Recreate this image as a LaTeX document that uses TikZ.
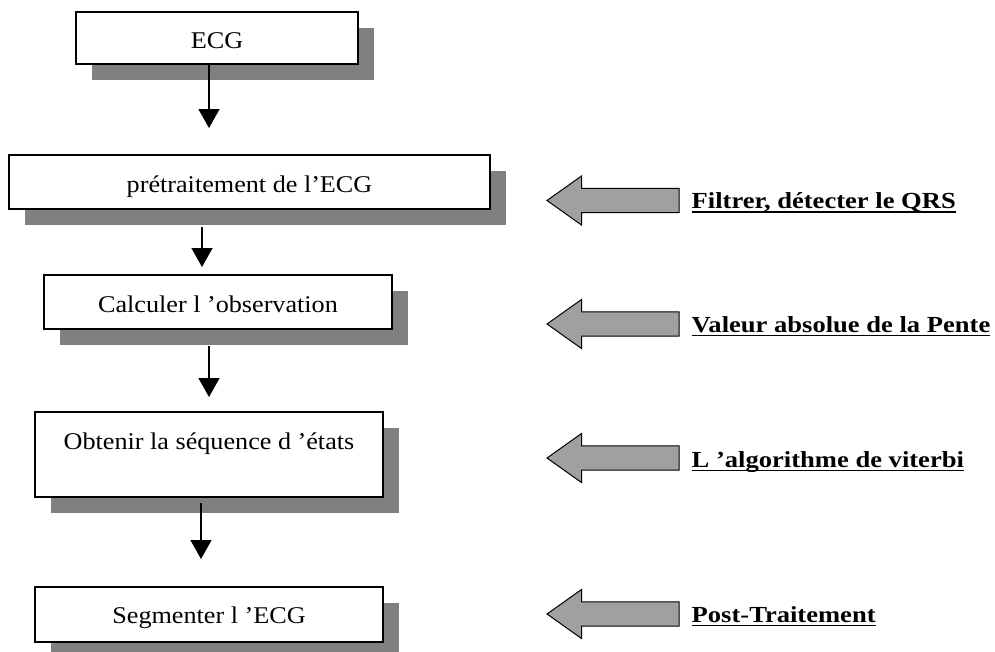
\documentclass[tikz,border=0pt]{standalone}
\usepackage{fontspec}
\usepackage{graphicx}
\setmainfont{Liberation Serif}
\usetikzlibrary{arrows.meta,shadows}
\definecolor{shadowgray}{HTML}{808080}
\definecolor{blockgray}{HTML}{A0A0A0}
\newcommand\ulab[1]{{\setbox0=\hbox{#1}\rlap{\rule[-4.3pt]{\wd0}{1.4pt}}\box0}}
\newcommand\boxtxt[1]{\scalebox{1.09}[1]{#1}}
\newcommand\labtxt[1]{\scalebox{1.155}[1]{\ulab{#1}}}
\begin{document}
\begin{tikzpicture}[x=1pt,y=-1pt,
  flowbox/.style={draw=black, line width=1.6pt, fill=white, inner sep=0pt, outer sep=0pt,
    drop shadow={shadow xshift=16pt, shadow yshift=-16pt, fill=shadowgray, opacity=1}},
  boxtext/.style={font=\fontsize{24}{24}\selectfont, inner sep=0pt, anchor=base},
  labtext/.style={font=\fontsize{23}{23}\selectfont\bfseries, inner sep=0pt, anchor=base west},
  vline/.style={line width=1.5pt, -{Triangle[width=21pt,length=19pt]}},
  blockarrow/.style={draw=black, line width=1pt, fill=blockgray, line join=miter},
  larrow/.pic={\draw[blockarrow] (0,0) -- (34.5,-24.5) -- (34.5,-12.2) -- (132,-12.2) -- (132,12.2) -- (34.5,12.2) -- (34.5,24.5) -- cycle;}
]
\useasboundingbox (0,0) rectangle (995,651);

% boxes
\node[flowbox, minimum width=282pt, minimum height=52pt] (b1) at (217,38) {};
\node[flowbox, minimum width=481pt, minimum height=54pt] (b2) at (249.5,182) {};
\node[flowbox, minimum width=348pt, minimum height=54pt] (b3) at (218,302) {};
\node[flowbox, minimum width=348pt, minimum height=85pt] (b4) at (209,454.5) {};
\node[flowbox, minimum width=348pt, minimum height=55pt] (b5) at (209,614.5) {};

% box texts
\node[boxtext] (t1) at ([yshift=-36pt]b1.north) {\boxtxt{ECG}};
\node[boxtext] (t2) at ([yshift=-37pt]b2.north) {\boxtxt{prétraitement de l’ECG}};
\node[boxtext] (t3) at ([yshift=-37pt]b3.north) {\boxtxt{Calculer l ’observation}};
\node[boxtext] (t4) at ([yshift=-37pt]b4.north) {\boxtxt{Obtenir la séquence d ’états}};
\node[boxtext] (t5) at ([yshift=-36pt]b5.north) {\boxtxt{Segmenter l ’ECG}};

% vertical arrows
\coordinate (e1) at (209,128);
\coordinate (e2) at (202,267);
\coordinate (e3) at (209,397);
\coordinate (e4) at (201,559);
\draw[vline] (e1 |- b1.south) -- (e1);
\draw[vline] ([yshift=-18pt]e2 |- b2.south) -- (e2);
\draw[vline] ([yshift=-17pt]e3 |- b3.south) -- (e3);
\draw[vline] ([yshift=-6pt]e4 |- b4.south) -- (e4);

% labels
\node[labtext] (l1) at (691.5,208.5) {\labtxt{Filtrer, détecter le QRS}};
\node[labtext] (l2) at (691.5,332) {\labtxt{Valeur absolue de la Pente}};
\node[labtext] (l3) at (691.5,467) {\labtxt{L ’algorithme de viterbi}};
\node[labtext] (l4) at (691.5,622) {\labtxt{Post-Traitement}};

% block arrows
\pic at (547,200.5) {larrow};
\pic at (547,324) {larrow};
\pic at (547,458) {larrow};
\pic at (547,614) {larrow};
\end{tikzpicture}
\end{document}
